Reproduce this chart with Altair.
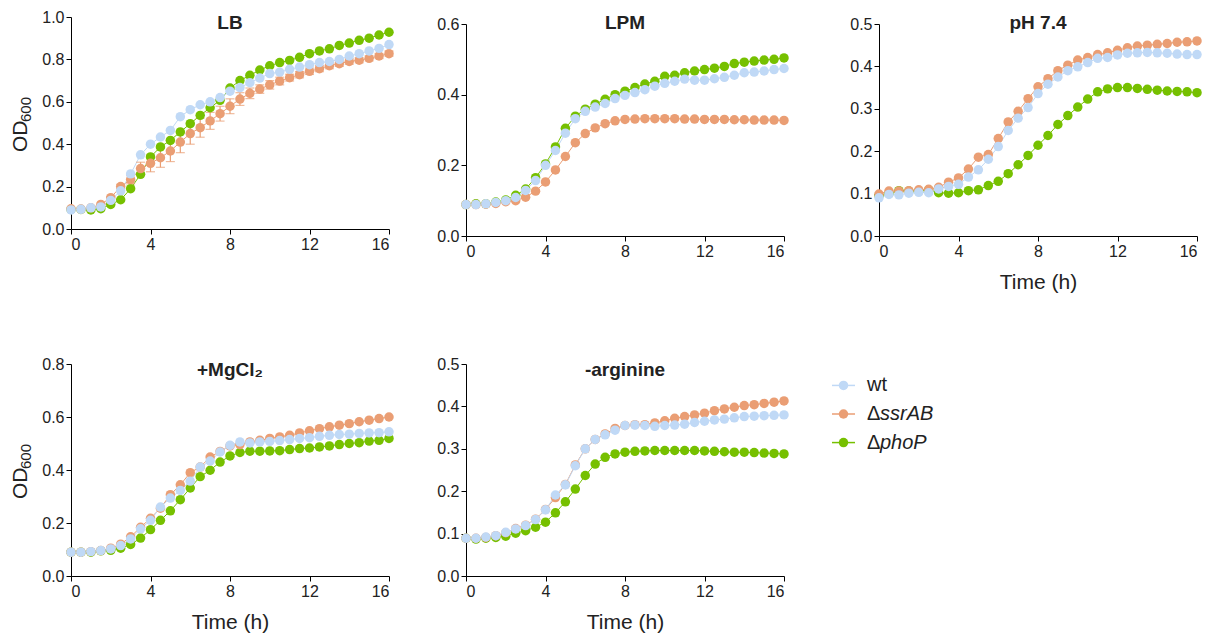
import altair as alt
import pandas as pd

TIME = [0, 0.5, 1, 1.5, 2, 2.5, 3, 3.5, 4, 4.5, 5, 5.5, 6, 6.5, 7, 7.5, 8,
        8.5, 9, 9.5, 10, 10.5, 11, 11.5, 12, 12.5, 13, 13.5, 14, 14.5, 15, 15.5, 16]

STRAIN_KEYS = ["wt", "ssrAB", "phoP"]
STRAIN_COLORS = ["#C0D9F6", "#EA9E74", "#76C000"]
DRAW_ORDER = ["phoP", "ssrAB", "wt"]

# ---- LB ----
LB_WT = [0.09, 0.093, 0.10, 0.104, 0.135, 0.18, 0.26, 0.35, 0.40, 0.434, 0.465, 0.53, 0.563, 0.586, 0.60, 0.62, 0.65,
         0.667, 0.69, 0.712, 0.733, 0.74, 0.753, 0.764, 0.775, 0.785, 0.79, 0.80, 0.816, 0.827, 0.84, 0.852, 0.87]
LB_SSR = [0.095, 0.094, 0.10, 0.116, 0.148, 0.20, 0.233, 0.285, 0.31, 0.336, 0.368, 0.41, 0.45, 0.478, 0.51, 0.544, 0.579,
          0.613, 0.64, 0.66, 0.68, 0.698, 0.714, 0.728, 0.744, 0.756, 0.77, 0.78, 0.79, 0.796, 0.805, 0.816, 0.827]
LB_PHO = [0.092, 0.092, 0.09, 0.096, 0.116, 0.138, 0.19, 0.258, 0.34, 0.387, 0.418, 0.458, 0.497, 0.536, 0.572, 0.607, 0.665,
          0.70, 0.725, 0.75, 0.77, 0.785, 0.795, 0.81, 0.827, 0.84, 0.85, 0.866, 0.877, 0.89, 0.90, 0.915, 0.928]
LB_SSR_SD = [0.0, 0.0, 0.0, 0.0, 0.005, 0.01, 0.02, 0.03, 0.04, 0.045, 0.05, 0.05, 0.05, 0.045, 0.04, 0.035, 0.035,
             0.03, 0.025, 0.02, 0.02, 0.018, 0.016, 0.015, 0.015, 0.014, 0.014, 0.013, 0.013, 0.012, 0.012, 0.012, 0.012]

# ---- LPM ----
LPM_WT = [0.089, 0.089, 0.091, 0.095, 0.10, 0.109, 0.129, 0.157, 0.20, 0.242, 0.291, 0.332, 0.353, 0.365, 0.375, 0.389, 0.398,
          0.406, 0.414, 0.424, 0.432, 0.438, 0.444, 0.441, 0.441, 0.445, 0.449, 0.455, 0.462, 0.464, 0.467, 0.471, 0.474]
LPM_SSR = [0.089, 0.089, 0.09, 0.092, 0.097, 0.10, 0.11, 0.127, 0.153, 0.187, 0.225, 0.264, 0.29, 0.306, 0.318, 0.326, 0.33,
           0.331, 0.332, 0.332, 0.332, 0.332, 0.331, 0.331, 0.330, 0.330, 0.330, 0.329, 0.329, 0.328, 0.328, 0.328, 0.327]
LPM_PHO = [0.089, 0.091, 0.091, 0.096, 0.102, 0.115, 0.133, 0.165, 0.204, 0.252, 0.305, 0.339, 0.359, 0.373, 0.387, 0.40, 0.41,
           0.42, 0.43, 0.438, 0.452, 0.455, 0.462, 0.467, 0.471, 0.475, 0.48, 0.488, 0.492, 0.495, 0.498, 0.50, 0.504]

# ---- pH 7.4 ----
PH_WT = [0.09, 0.098, 0.097, 0.101, 0.103, 0.102, 0.111, 0.117, 0.122, 0.139, 0.156, 0.181, 0.211, 0.249, 0.278, 0.303, 0.336,
         0.358, 0.375, 0.39, 0.399, 0.409, 0.419, 0.421, 0.427, 0.431, 0.432, 0.433, 0.432, 0.431, 0.429, 0.428, 0.428]
PH_SSR = [0.099, 0.106, 0.106, 0.107, 0.109, 0.11, 0.115, 0.127, 0.137, 0.158, 0.186, 0.192, 0.23, 0.269, 0.294, 0.324, 0.352,
          0.371, 0.39, 0.403, 0.415, 0.421, 0.428, 0.432, 0.438, 0.444, 0.448, 0.45, 0.452, 0.454, 0.457, 0.458, 0.46]
PH_PHO = [0.095, 0.10, 0.107, 0.106, 0.106, 0.109, 0.102, 0.101, 0.102, 0.107, 0.109, 0.119, 0.129, 0.147, 0.168, 0.19, 0.214,
          0.237, 0.263, 0.284, 0.304, 0.323, 0.34, 0.347, 0.35, 0.35, 0.348, 0.346, 0.344, 0.342, 0.341, 0.34, 0.338]

# ---- +MgCl2 ----
MG_WT = [0.09, 0.09, 0.092, 0.096, 0.102, 0.115, 0.14, 0.178, 0.21, 0.26, 0.294, 0.323, 0.358, 0.411, 0.434, 0.468, 0.493,
         0.506, 0.502, 0.506, 0.508, 0.511, 0.515, 0.519, 0.522, 0.527, 0.531, 0.534, 0.535, 0.538, 0.54, 0.541, 0.544]
MG_SSR = [0.09, 0.09, 0.092, 0.096, 0.105, 0.12, 0.148, 0.184, 0.218, 0.256, 0.307, 0.344, 0.39, 0.411, 0.449, 0.47, 0.491,
          0.496, 0.506, 0.512, 0.519, 0.525, 0.531, 0.54, 0.548, 0.556, 0.563, 0.569, 0.575, 0.582, 0.588, 0.594, 0.60]
MG_PHO = [0.09, 0.09, 0.09, 0.095, 0.097, 0.105, 0.119, 0.143, 0.175, 0.21, 0.246, 0.288, 0.332, 0.375, 0.399, 0.43, 0.453,
          0.466, 0.471, 0.471, 0.472, 0.473, 0.477, 0.481, 0.483, 0.487, 0.491, 0.496, 0.50, 0.503, 0.509, 0.512, 0.519]

# ---- -arginine ----
ARG_WT = [0.089, 0.089, 0.092, 0.095, 0.103, 0.111, 0.119, 0.133, 0.156, 0.191, 0.215, 0.26, 0.30, 0.322, 0.333, 0.344, 0.355,
          0.356, 0.355, 0.353, 0.355, 0.356, 0.358, 0.362, 0.365, 0.368, 0.37, 0.373, 0.376, 0.377, 0.378, 0.379, 0.38]
ARG_SSR = [0.089, 0.089, 0.091, 0.095, 0.102, 0.112, 0.12, 0.134, 0.157, 0.185, 0.216, 0.262, 0.30, 0.322, 0.335, 0.348, 0.355,
           0.357, 0.357, 0.361, 0.366, 0.372, 0.376, 0.38, 0.384, 0.39, 0.394, 0.398, 0.402, 0.404, 0.407, 0.41, 0.413]
ARG_PHO = [0.089, 0.087, 0.089, 0.091, 0.094, 0.101, 0.107, 0.115, 0.127, 0.149, 0.175, 0.205, 0.237, 0.264, 0.28, 0.288, 0.292,
           0.294, 0.295, 0.296, 0.296, 0.296, 0.296, 0.296, 0.295, 0.294, 0.293, 0.292, 0.292, 0.291, 0.29, 0.289, 0.288]

LEGEND_PREFIX = ["", "Δ", "Δ"]
LEGEND_NAME = ["wt", "ssrAB", "phoP"]
Y_TITLE_MAIN = "OD"
Y_TITLE_SUB = "600"

FONT = "Liberation Sans"
W, H = 318, 212

color_scale = alt.Scale(domain=STRAIN_KEYS, range=STRAIN_COLORS)


def build_df(wt, ssr, pho):
    series = {"wt": wt, "ssrAB": ssr, "phoP": pho}
    rows = []
    for s in DRAW_ORDER:
        for t, v in zip(TIME, series[s]):
            rows.append({"t": t, "od": v, "strain": s})
    return pd.DataFrame(rows)


def panel(title, wt, ssr, pho, ymax, yvals, ytitle=False, xtitle=False, sd=None,
          title_offset=-17, lift=0):
    df = build_df(wt, ssr, pho)
    x = alt.X("t:Q", scale=alt.Scale(domain=[0, 16], nice=False, zero=False),
              axis=alt.Axis(values=[0, 4, 8, 12, 16], title="Time (h)" if xtitle else None,
                            offset=-lift))
    yscale = alt.Scale(domain=[0, ymax], nice=False)
    if lift:
        yscale = alt.Scale(domain=[0, ymax], nice=False, range=[H - lift, -lift])
    y = alt.Y("od:Q", scale=yscale, axis=alt.Axis(values=yvals, format=".1f", title=None))
    color = alt.Color("strain:N", scale=color_scale, legend=None)
    lines = alt.Chart(df).mark_line(strokeWidth=1, clip=False).encode(x=x, y=y, color=color)
    pts = alt.Chart(df).mark_circle(size=90, opacity=1).encode(x=x, y=y, color=color)
    layers = [lines]
    if sd is not None:
        edf = pd.DataFrame({"t": TIME, "od": ssr, "sd": sd})
        edf = edf[edf["sd"] > 0]
        edf["lo"] = edf["od"] - edf["sd"]
        edf["hi"] = edf["od"] + edf["sd"]
        ec = STRAIN_COLORS[1]
        base = alt.Chart(edf)
        rule = base.mark_rule(color=ec, strokeWidth=1.2).encode(x=x, y=alt.Y("lo:Q"), y2="hi:Q")
        tlo = base.mark_tick(color=ec, orient="horizontal", size=9, thickness=1.2).encode(x=x, y=alt.Y("lo:Q"))
        thi = base.mark_tick(color=ec, orient="horizontal", size=9, thickness=1.2).encode(x=x, y=alt.Y("hi:Q"))
        layers += [rule, tlo, thi]
    layers.append(pts)
    if ytitle:
        tdf = pd.DataFrame({"main": [Y_TITLE_MAIN], "sub": [Y_TITLE_SUB]})
        t_main = alt.Chart(tdf).mark_text(angle=270, align="left", baseline="middle", fontSize=21,
                                          font=FONT, color="#222").encode(
            x=alt.value(-50), y=alt.value(H / 2 + 29 - lift), text="main:N")
        t_sub = alt.Chart(tdf).mark_text(angle=270, align="left", baseline="middle", fontSize=15,
                                         font=FONT, color="#222").encode(
            x=alt.value(-45), y=alt.value(H / 2 - 1 - lift), text="sub:N")
        layers += [t_main, t_sub]
    return alt.layer(*layers).properties(
        width=W, height=H,
        title=alt.TitleParams(title, fontSize=19, fontWeight="bold", font=FONT, color="#222",
                              anchor="middle", offset=title_offset),
    )


lb = panel("LB", LB_WT, LB_SSR, LB_PHO, 1.0, [0, 0.2, 0.4, 0.6, 0.8, 1.0], ytitle=True, sd=LB_SSR_SD,
           lift=7, title_offset=-24)
lpm = panel("LPM", LPM_WT, LPM_SSR, LPM_PHO, 0.6, [0, 0.2, 0.4, 0.6])
ph = panel("pH 7.4", PH_WT, PH_SSR, PH_PHO, 0.5, [0, 0.1, 0.2, 0.3, 0.4, 0.5], xtitle=True)
mg = panel("+MgCl₂", MG_WT, MG_SSR, MG_PHO, 0.8, [0, 0.2, 0.4, 0.6, 0.8], ytitle=True, xtitle=True,
           title_offset=-24)
arg = panel("-arginine", ARG_WT, ARG_SSR, ARG_PHO, 0.5, [0, 0.1, 0.2, 0.3, 0.4, 0.5], xtitle=True,
            title_offset=-24)

# ---- custom legend ----
leg_df = pd.DataFrame({"strain": STRAIN_KEYS, "prefix": LEGEND_PREFIX, "name": LEGEND_NAME,
                       "row": [0, 1, 2]})
ly = alt.Y("row:Q", scale=alt.Scale(domain=[-0.75, 2.75], reverse=True, nice=False, zero=False), axis=None)
lc = alt.Color("strain:N", scale=color_scale, legend=None)
leg_base = alt.Chart(leg_df)
leg_rule = leg_base.mark_rule(strokeWidth=1.5).encode(x=alt.value(2), x2=alt.value(25), y=ly, color=lc)
leg_pt = leg_base.mark_circle(size=90, opacity=1).encode(x=alt.value(13.5), y=ly, color=lc)
leg_wt = leg_base.transform_filter(alt.datum.row == 0).mark_text(
    align="left", baseline="middle", fontSize=20, font=FONT, color="#222").encode(
    x=alt.value(37), y=ly, text="name:N")
leg_pref = leg_base.transform_filter(alt.datum.row > 0).mark_text(
    align="left", baseline="middle", fontSize=20, font=FONT, color="#222").encode(
    x=alt.value(37), y=ly, text="prefix:N")
leg_name = leg_base.transform_filter(alt.datum.row > 0).mark_text(
    align="left", baseline="middle", fontSize=20, font=FONT, fontStyle="italic", color="#222").encode(
    x=alt.value(50), y=ly, text="name:N")
legend = alt.layer(leg_rule, leg_pt, leg_wt, leg_pref, leg_name).properties(width=150, height=100)

top = alt.hconcat(alt.hconcat(lb, lpm, spacing=42), ph, spacing=60)
bottom = alt.hconcat(alt.hconcat(mg, arg, spacing=42), legend, spacing=41)

chart = alt.vconcat(top, bottom, spacing=64).properties(
    padding={"left": 2, "top": 1, "right": 2, "bottom": 2}, background="white"
).configure_view(strokeWidth=0).configure_axis(
    grid=False, domainColor="black", tickColor="black", domainWidth=1, tickWidth=1, tickSize=5,
    labelFont=FONT, labelFontSize=16, labelColor="#222", labelPadding=2,
    titleFont=FONT, titleFontSize=21, titleFontWeight="normal", titleColor="#222",
).configure_axisX(titlePadding=12)

chart.save("out.html", embed_options={"renderer": "svg", "actions": False})
